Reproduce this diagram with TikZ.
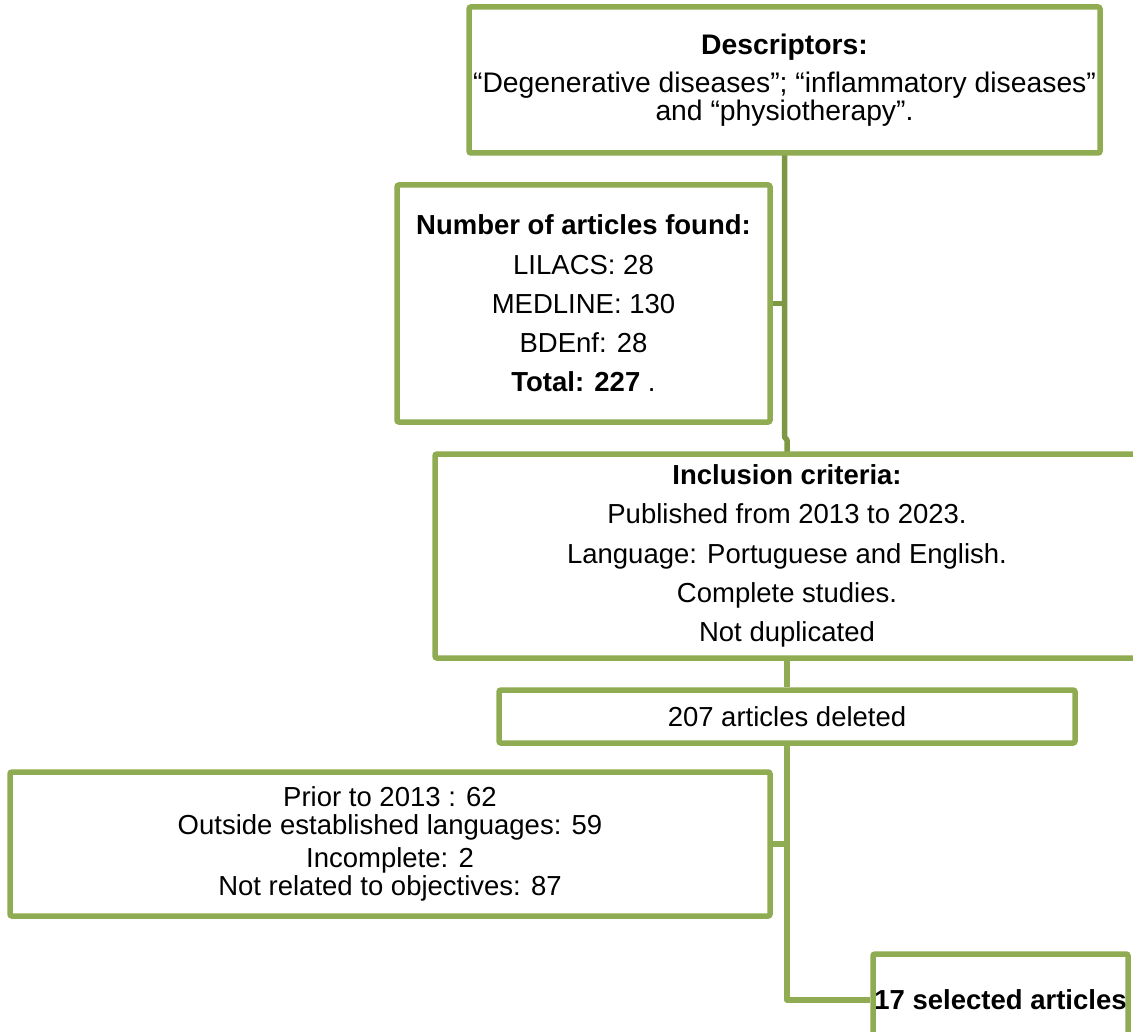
\documentclass[tikz,border=0pt]{standalone}
\usepackage{fontspec}
\setmainfont{Liberation Sans}
\definecolor{boxgreen}{RGB}{143,172,82}
\definecolor{trunkgreen}{RGB}{126,151,68}
\begin{document}
\begin{tikzpicture}[x=1pt,y=-1pt,
  box/.style={draw=boxgreen, line width=5.5pt, rounded corners=2pt, inner sep=0pt,
    align=center, fill=white},
  conn/.style={draw=boxgreen, line width=5.5pt, line join=round},
  trunk/.style={draw=trunkgreen, line width=5.5pt, line join=round},
  ftxt/.style={font=\fontsize{27.5}{39.3}\selectfont}]
\useasboundingbox (0,0) rectangle (1133,1032);
\clip (0,0) rectangle (1133,1032);
\fill[white] (0,0) rectangle (1133,1032);

% trunk pieces joining the boxes
\coordinate (dsouth) at (784.5,153);
\coordinate (jog) at (784.5,437);
\coordinate (fjoin) at (784.5,303.5);
\coordinate (ijoin) at (787,456);
\draw[trunk] (dsouth) -- (jog) -- (787,440) -- (ijoin);

\node[box, font=\fontsize{28.3}{27.5}\selectfont, minimum width=631pt, minimum height=146pt]
  (desc) at (784.5,80)
  {\textbf{Descriptors:}\\[10.5pt]“Degenerative diseases”; “inflammatory diseases”\\and “physiotherapy”.};

\node[box, ftxt, minimum width=373pt, minimum height=237pt] (found) at (583.5,303.5)
  {\textbf{Number of articles found:}\\LILACS: 28\\MEDLINE: 130\\BDEnf: 28\\\textbf{Total: 227} .};

\node[box, ftxt, minimum width=704pt, minimum height=204pt] (incl) at (787,556)
  {\textbf{Inclusion criteria:}\\Published from 2013 to 2023.\\Language: Portuguese and English.\\Complete studies.\\Not duplicated};

\node[box, ftxt, minimum width=576pt, minimum height=53pt] (del) at (787,716.5)
  {207 articles deleted};

\node[box, font=\fontsize{27.5}{28}\selectfont, minimum width=760pt, minimum height=144pt] (reasons) at (390,844)
  {Prior to 2013 : 62\\Outside established languages: 59\\[5pt]Incomplete: 2\\Not related to objectives: 87};

\node[box, ftxt, minimum width=255pt, minimum height=92pt] (sel) at (1000.5,1000)
  {\textbf{17 selected articles}};

% connectors by name
\draw[trunk] (found.east) -- (found.east -| fjoin);
\draw[conn] (incl.south) -- (del.north);
\draw[conn] (del.south) |- (sel.west);
\draw[conn] (reasons.east) -- (reasons.east -| del.south);
\end{tikzpicture}
\end{document}
